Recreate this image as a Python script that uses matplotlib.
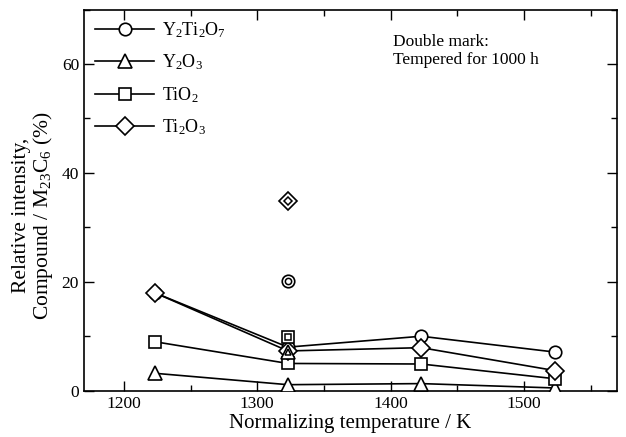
import matplotlib
matplotlib.use("Agg")
import matplotlib.pyplot as plt
from matplotlib.ticker import MultipleLocator

plt.rcParams["font.family"] = ["Liberation Serif", "DejaVu Serif"]
plt.rcParams["mathtext.fontset"] = "custom"
plt.rcParams["mathtext.rm"] = "Liberation Serif"
plt.rcParams["mathtext.it"] = "Liberation Serif:italic"

# normalizing temperature (K)
temps = [1223, 1323, 1423, 1523]

# relative intensity, compound / M23C6 (%)
y2ti2o7 = [18.0, 8.0, 10.0, 7.1]
y2o3 = [3.2, 1.1, 1.3, 0.5]
tio2 = [9.0, 5.0, 4.9, 2.2]
ti2o3 = [18.0, 7.3, 7.9, 3.7]

# tempered for 1000 h (double marks)
temp_tempered = 1323
tempered = {"o": 20.2, "^": 7.1, "s": 9.8, "D": 34.8}

labels = ["Y$_2$Ti$_2$O$_7$", "Y$_2$O$_3$", "TiO$_2$", "Ti$_2$O$_3$"]
series = [y2ti2o7, y2o3, tio2, ti2o3]
markers = ["o", "^", "s", "D"]
sizes = {"o": 9, "^": 9.5, "s": 9, "D": 9}

fig = plt.figure(figsize=(6.26, 4.37), dpi=100)
ax = fig.add_axes([0.134, 0.106, 0.852, 0.872])

for vals, m, lab in zip(series, markers, labels):
    ax.plot(temps, vals, color="black", lw=1.2, marker=m, ms=sizes[m],
            mfc="white", mec="black", mew=1.2, label=lab, zorder=3)

# double marks
for m, v in tempered.items():
    ax.plot([temp_tempered], [v], ls="none", marker=m, ms=sizes[m],
            mfc="white", mec="black", mew=1.2, zorder=4)
    ax.plot([temp_tempered], [v], ls="none", marker=m, ms=sizes[m] * 0.5,
            mfc="white", mec="black", mew=1.1, zorder=5)

ax.set_xlim(1170, 1570)
ax.set_ylim(0, 70)
ax.xaxis.set_major_locator(MultipleLocator(100))
ax.xaxis.set_minor_locator(MultipleLocator(50))
ax.yaxis.set_major_locator(MultipleLocator(20))
ax.yaxis.set_minor_locator(MultipleLocator(10))
ax.tick_params(which="both", direction="in", top=True, right=True, labelsize=12.5)
ax.tick_params(which="major", length=7, width=1)
ax.tick_params(which="minor", length=4, width=1)
for sp in ax.spines.values():
    sp.set_linewidth(1.2)

ax.set_xlabel("Normalizing temperature / K", fontsize=15, labelpad=2)
ax.set_ylabel("Relative intensity,\nCompound / M$_{23}$C$_6$ (%)", fontsize=15.5,
              linespacing=1.0)
ax.yaxis.set_label_coords(-0.055, 0.46)

ax.text(0.58, 0.935, "Double mark:\nTempered for 1000 h", transform=ax.transAxes,
        fontsize=12.5, va="top", ha="left", linespacing=1.1)

ax.legend(loc="upper left", frameon=False, fontsize=13, handlelength=3.3,
          labelspacing=0.7, borderaxespad=0.2, handletextpad=0.4,
          bbox_to_anchor=(0.0, 1.0))

fig.savefig("out.png", dpi=100)
